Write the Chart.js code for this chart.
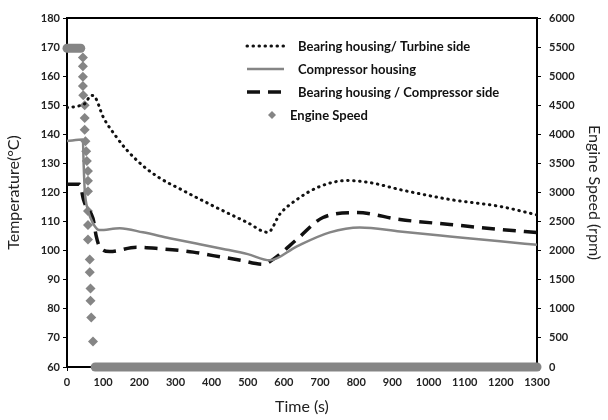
<!DOCTYPE html>
<html>
<head>
<meta charset="utf-8">
<script src="https://cdn.jsdelivr.net/npm/chart.js@4"></script>
<style>
body{margin:0;background:#fff;}
</style>
</head>
<body>
<canvas id="tempChart" width="608" height="420"></canvas>
<script>
// bearing housing, turbine side (dotted)
const turbineTime=[0,30,50,67,77,100,136,164,210,256,313,404,497,556,589,636,700,774,838,921,1059,1198,1300];
const turbineTemp=[149.2,149.7,150.6,153.4,152.9,146,139.2,134.8,129.2,125,121.2,115.4,109.8,106.3,112.6,117.6,122.1,124.1,123.4,121,117.6,115.2,112.3];

// compressor housing (solid)
const compTime=[0,44,46,49,58,72,90,146,210,284,367,432,500,561,636,727,810,921,1059,1198,1300];
const compTemp=[137.7,138.2,130,120.9,114,109.4,107.1,107.7,106.3,104.3,102.2,100.6,98.8,96.7,101.5,106.3,108,106.6,104.9,103.2,102];

// bearing housing, compressor side (dashed)
const compSideTime=[0,35,46,53,72,81,90,118,192,256,349,404,480,542,570,636,708,802,921,1059,1198,1300];
const compSideTemp=[122.8,122.8,117.4,115.1,111.1,104.9,101.4,99.7,101.2,100.7,99.5,98.3,96.7,95.3,97,103.9,111.4,113.1,110.7,109,107.3,106.2];

// engine speed (rpm)
const speedTime=[0,38,44,44,44,44,45,49,49,49,51,53,55,58,58,58,58,58,58,63,63,65,65,67,72,78,1300];
const speedRpm=[5480,5480,5320,5170,4990,4830,4670,4500,4280,4080,3880,3710,3540,3370,3200,3020,2680,2440,2190,1850,1630,1350,1140,850,440,0,0];

const gray='#858585';
const tickFont={family:'Lato',size:11,weight:'bold'};
const titleFont={family:'Lato',size:16};

function pts(xs,ys){return xs.map((x,i)=>({x:x,y:ys[i]}));}
function plain(v){return String(v);}

const frame={
id:'frame',
afterDraw(chart){
const a=chart.chartArea,c=chart.ctx;
c.save();
c.strokeStyle='#000';
c.lineWidth=2;
c.beginPath();
c.moveTo(a.left-1,a.top);
c.lineTo(a.right+1,a.top);
c.stroke();
c.restore();
}
};

const legendBox={
id:'legendBox',
afterDraw(chart){
const c=chart.ctx;
const ds=chart.data.datasets;
const rows=[46,69,92,115];
c.save();
c.font='bold 13px Lato';
c.fillStyle='#111';
c.textBaseline='middle';
for(let i=0;i<3;i++){
const d=ds[i];
c.beginPath();
c.strokeStyle=d.borderColor;
c.lineWidth=d.borderWidth;
c.setLineDash(d.borderDash||[]);
c.lineCap=d.borderCapStyle||'butt';
c.moveTo(247,rows[i]);
c.lineTo(284,rows[i]);
c.stroke();
c.fillText(d.label,298,rows[i]+1);
}
c.setLineDash([]);
c.fillStyle=gray;
c.beginPath();
c.moveTo(272,rows[3]-4);
c.lineTo(276,rows[3]);
c.lineTo(272,rows[3]+4);
c.lineTo(268,rows[3]);
c.closePath();
c.fill();
c.fillStyle='#111';
c.fillText(ds[3].label,290,rows[3]+1);
c.restore();
}
};

new Chart(
document.getElementById('tempChart'),
{
type:'line',
data:{
datasets:[{
label:'Bearing housing/ Turbine side',
data:pts(turbineTime,turbineTemp),
borderColor:'#111',
borderWidth:3,
borderDash:[0.5,5.5],
borderCapStyle:'round',
pointRadius:0,
cubicInterpolationMode:'monotone',
yAxisID:'y'
},{
label:'Compressor housing',
data:pts(compTime,compTemp),
borderColor:gray,
borderWidth:2.5,
pointRadius:0,
cubicInterpolationMode:'monotone',
yAxisID:'y'
},{
label:'Bearing housing / Compressor side',
data:pts(compSideTime,compSideTemp),
borderColor:'#111',
borderWidth:3.5,
borderDash:[13,8],
pointRadius:0,
cubicInterpolationMode:'monotone',
yAxisID:'y'
},{
label:'Engine Speed',
data:pts(speedTime,speedRpm),
showLine:true,
clip:false,
borderWidth:9,
borderCapStyle:'round',
borderColor:gray,
segment:{
borderColor:ctx=>ctx.p0.parsed.y===ctx.p1.parsed.y?gray:'rgba(0,0,0,0)'
},
pointStyle:'rectRot',
pointRadius:ctx=>{
const i=ctx.dataIndex;
return (i<2||i>=speedTime.length-2)?0:5;
},
pointBorderWidth:0,
pointBackgroundColor:gray,
tension:0,
yAxisID:'y1'
}]
},
options:{
responsive:false,
animation:false,
devicePixelRatio:1,
layout:{padding:{top:18}},
plugins:{
legend:{display:false},
tooltip:{enabled:false}
},
scales:{
x:{
type:'linear',
min:0,
max:1300,
afterFit:s=>{s.height=53;},
ticks:{stepSize:100,font:tickFont,color:'#222',padding:5,maxRotation:0,callback:plain},
grid:{drawOnChartArea:false,tickLength:4,color:'#000'},
border:{color:'#000',width:2},
title:{display:true,text:'Time (s)',font:titleFont,color:'#222',padding:{top:2,bottom:4}}
},
y:{
type:'linear',
position:'left',
min:60,
max:180,
afterFit:s=>{s.width=67;},
ticks:{stepSize:10,font:tickFont,color:'#222',padding:3,callback:plain},
grid:{drawOnChartArea:false,tickLength:4,color:'#000'},
border:{color:'#000',width:2},
title:{display:true,text:'Temperature(°C)',font:titleFont,color:'#222',padding:{top:4,bottom:4}}
},
y1:{
type:'linear',
position:'right',
min:0,
max:6000,
afterFit:s=>{s.width=71;},
ticks:{stepSize:500,font:tickFont,color:'#222',padding:8,callback:plain},
grid:{drawOnChartArea:false,tickLength:4,color:'#000'},
border:{color:'#000',width:2},
title:{display:true,text:'Engine Speed (rpm)',font:titleFont,color:'#222',padding:{top:4,bottom:4}}
}
}
},
plugins:[frame,legendBox]
}
);
</script>
</body>
</html>
